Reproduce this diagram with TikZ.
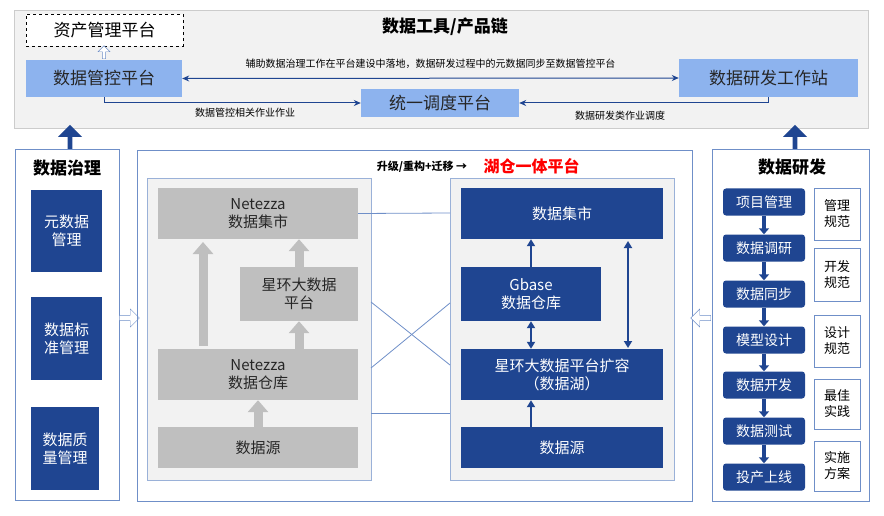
\documentclass[tikz,border=0pt]{standalone}
\usepackage{fontspec}
\setmainfont{Noto Sans CJK SC}
\usetikzlibrary{arrows.meta,shapes.arrows}
\definecolor{dblue}{HTML}{1F4591}
\definecolor{lblue}{HTML}{8DB3EE}
\definecolor{gbox}{HTML}{BFBFBF}
\definecolor{panel}{HTML}{F2F2F2}
\definecolor{pline}{HTML}{6F8FC8}
\begin{document}
\begin{tikzpicture}[x=1pt,y=-1pt,
  box/.style={inner sep=0pt,align=center,font=\fontsize{15}{18}\selectfont},
  dbox/.style={box,fill=dblue,text=white},
  gbx/.style={box,fill=gbox,text=black!85},
  lbx/.style={box,fill=lblue,text=black!85,font=\fontsize{17}{20}\selectfont},
  stepbox/.style={dbox,rounded corners=3pt,font=\fontsize{14}{16}\selectfont},
  sidebox/.style={box,draw=pline,fill=white,font=\fontsize{13}{16}\selectfont},
  garr/.style={gbox,line width=9pt,-{Triangle[width=20pt,length=12pt]}},
  barr/.style={dblue,line width=2.5pt,-{Triangle[width=8pt,length=7pt]}},
  bdarr/.style={dblue,line width=2.5pt,{Triangle[width=8pt,length=7pt]}-{Triangle[width=8pt,length=7pt]}},
  thin/.style={dblue,line width=1pt,-{Stealth[length=7pt,width=6pt]}},
  openarr/.style={single arrow,draw=pline,fill=white,minimum height=20pt,minimum width=18pt,single arrow head extend=3pt,inner sep=1pt},
  bigup/.style={single arrow,fill=dblue,minimum height=24pt,minimum width=24pt,single arrow head extend=5pt,shape border rotate=90,inner sep=1pt}
]
\useasboundingbox (0,0) rectangle (884,516);
% top panel
\draw[gray!40,fill=panel] (14,10) rectangle (868,128);
\node[box,draw=black,dashed,fill=white,minimum width=157pt,minimum height=32pt,font=\fontsize{17}{20}\selectfont] (zc) at (104.5,30) {资产管理平台};
\node[font=\bfseries\fontsize{17}{20}\selectfont] (title) at (445,27) {数据工具/产品链};
\node[lbx,minimum width=156pt,minimum height=37pt] (gk) at (104,78.5) {数据管控平台};
\node[lbx,minimum width=179pt,minimum height=38pt] (yf) at (768.5,78) {数据研发工作站};
\node[lbx,minimum width=158pt,minimum height=28pt] (dd) at (440,103) {统一调度平台};
\node[single arrow,draw=pline,fill=white,shape border rotate=90,minimum height=13pt,minimum width=12pt,single arrow head extend=2pt,inner sep=0.5pt] (oa) at (104,53) {};
\draw[dblue,line width=1pt,{Stealth[length=7pt,width=6pt]}-{Stealth[length=7pt,width=6pt]}] (gk.east) -- node[above=6pt,text=black,font=\fontsize{10}{12}\selectfont] {辅助数据治理工作在平台建设中落地，数据研发过程中的元数据同步至数据管控平台} (yf.west);
\draw[thin] (gk.south) |- (dd.west);
\draw[thin] (yf.south) |- (dd.east);
\node[font=\fontsize{10}{12}\selectfont] (l1) at (245,113) {数据管控相关作业作业};
\node[font=\fontsize{10}{12}\selectfont] (l2) at (620,116) {数据研发类作业调度};
\node[bigup] (u1) at (70,138) {};
\node[bigup] (u2) at (795,138) {};
% left panel
\draw[pline,line width=1pt] (15,150) rectangle (119,500);
\node[font=\bfseries\fontsize{17}{20}\selectfont] (t1) at (67,168) {数据治理};
\node[dbox,minimum width=71pt,minimum height=82pt] (m1) at (66.5,231) {元数据\\管理};
\node[dbox,minimum width=71pt,minimum height=83pt] (m2) at (66.5,338.5) {数据标\\准管理};
\node[dbox,minimum width=68pt,minimum height=83pt] (m3) at (65,448.5) {数据质\\量管理};
\node[openarr] (o1) at (128,318) {};
% middle
\draw[pline,line width=1pt] (137,151) rectangle (692,501);
\node[font=\bfseries\fontsize{11}{13}\selectfont] (h1) at (422,167) {升级/重构+迁移 →};
\node[font=\bfseries\fontsize{16}{19}\selectfont,text=red,anchor=west] (h2) at (480,166) {湖仓一体平台};
\draw[pline!70,fill=panel] (147,178) rectangle (371,480);
\draw[pline!70,fill=panel] (450,178) rectangle (674,480);
\node[gbx,minimum width=200pt,minimum height=51pt] (a1) at (258,213.5) {Netezza\\数据集市};
\node[gbx,minimum width=118pt,minimum height=54pt] (a2) at (299,294) {星环大数据\\平台};
\node[gbx,minimum width=200pt,minimum height=51pt] (a3) at (258,374.5) {Netezza\\数据仓库};
\node[gbx,minimum width=200pt,minimum height=41pt] (a4) at (258,447.5) {数据源};
\draw[garr] (203,346) -- (203,242);
\draw[garr] (a2.north) -- (a2.north|-a1.south);
\draw[garr] (a3.north-|a2) -- (a2.south);
\draw[garr] (a4.north) -- (a3.south);
\node[dbox,minimum width=202pt,minimum height=51pt] (b1) at (562,213.5) {数据集市};
\node[dbox,minimum width=140pt,minimum height=54pt] (b2) at (531,294) {Gbase\\数据仓库};
\node[dbox,minimum width=202pt,minimum height=51pt] (b3) at (562,374.5) {星环大数据平台扩容\\（数据湖）};
\node[dbox,minimum width=202pt,minimum height=41pt] (b4) at (562,447.5) {数据源};
\draw[barr] (b2.north) -- (b2.north|-b1.south);
\draw[bdarr] (b2.south) -- (b2.south|-b3.north);
\draw[bdarr] (628,241) -- (628,348);
\draw[barr] (b4.north -| b2) -- (b3.south -| b2);
\coordinate (p1) at (371,302); \coordinate (p2) at (450,365);
\coordinate (p3) at (371,368); \coordinate (p4) at (450,303);
\draw[pline,line width=0.8pt] (a1.east) -- (450,213);
\draw[pline,line width=0.8pt] (p1) -- (p2);
\draw[pline,line width=0.8pt] (p3) -- (p4);
\draw[pline,line width=0.8pt] (371,413) -- (450,413);
% right panel
\draw[pline,line width=1pt] (712,150) rectangle (869,501);
\node[font=\bfseries\fontsize{17}{20}\selectfont] (t2) at (792,167) {数据研发};
\foreach \n/\t/\y in {1/项目管理/202,2/数据调研/248,3/数据同步/294,4/模型设计/340,5/数据开发/385,6/数据测试/431,7/投产上线/477}{
  \node[stepbox,minimum width=82pt,minimum height=27pt] (s\n) at (764,\y) {\t};
}
\foreach \a/\b in {1/2,2/3,3/4,4/5,5/6,6/7}{
  \draw[dblue,line width=4pt,-{Triangle[width=10pt,length=6pt]}] (s\a.south) -- (s\b.north);
}
\node[sidebox,minimum width=46pt,minimum height=52pt] (r1) at (837,214) {管理\\规范};
\node[sidebox,minimum width=46pt,minimum height=53pt] (r2) at (837,274.5) {开发\\规范};
\node[sidebox,minimum width=46pt,minimum height=52pt] (r3) at (837,341) {设计\\规范};
\node[sidebox,minimum width=46pt,minimum height=50pt] (r4) at (837,404) {最佳\\实践};
\node[sidebox,minimum width=46pt,minimum height=50pt] (r5) at (837,466) {实施\\方案};
\node[openarr,shape border rotate=180] (o2) at (702,318) {};
\end{tikzpicture}
\end{document}
